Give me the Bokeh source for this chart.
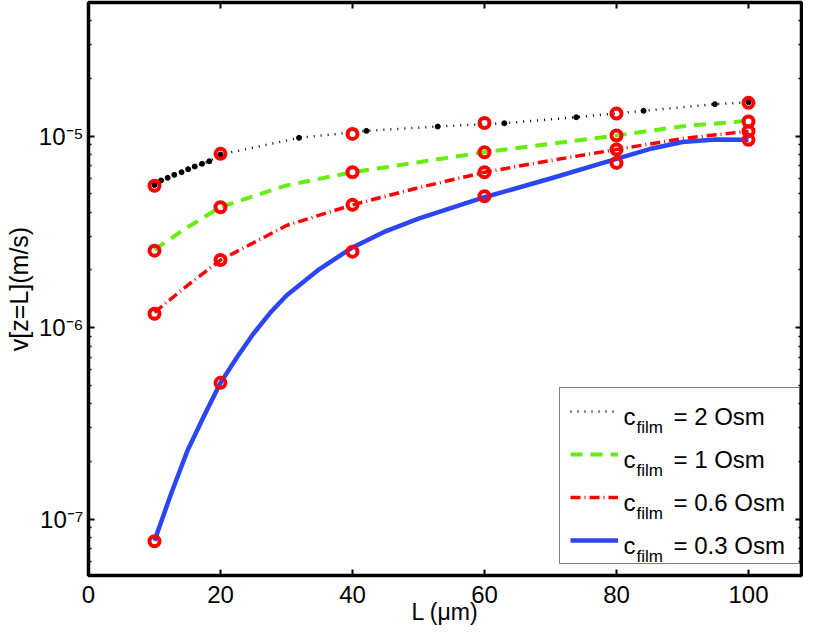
import math
from bokeh.plotting import figure
from bokeh.models import (FixedTicker, LinearAxis, LogAxis, Legend, LegendItem,
                          CustomJSTickFormatter, ColumnDataSource)
from bokeh.core.properties import value
from bokeh.embed import file_html
from bokeh.resources import INLINE

# ---------------- data ----------------
L_pts = [10, 20, 40, 60, 80, 100]
v_pts_2 = [5.5e-6, 8.07e-6, 1.026e-5, 1.17e-5, 1.31e-5, 1.49e-5]
v_pts_1 = [2.52e-6, 4.25e-6, 6.47e-6, 8.23e-6, 1.006e-5, 1.19e-5]
v_pts_06 = [1.18e-6, 2.25e-6, 4.37e-6, 6.47e-6, 8.5e-6, 1.06e-5]
v_pts_03 = [7.66e-8, 5.14e-7, 2.49e-6, 4.85e-6, 7.24e-6, 9.55e-6]

L_curve_2 = [10, 11.0, 12.0, 13.0, 14.1, 15.1, 16.1, 17.2, 18.3, 20, 31.9, 42.1, 52.9, 63.0, 73.9, 84.1, 94.9, 100]
v_curve_2 = [5.55e-6, 5.86e-6, 6.05e-6, 6.27e-6, 6.47e-6, 6.71e-6, 6.93e-6, 7.16e-6, 7.38e-6, 8.0e-6,
             9.78e-6, 1.064e-5, 1.121e-5, 1.166e-5, 1.254e-5, 1.354e-5, 1.466e-5, 1.5e-5]

L_curve_1 = [10, 15, 20, 30, 40, 50, 60, 70, 80, 90, 100]
v_curve_1 = [2.55e-6, 3.34e-6, 4.25e-6, 5.52e-6, 6.47e-6, 7.3e-6, 8.23e-6, 9.1e-6, 1.006e-5, 1.124e-5, 1.2e-5]

L_curve_06 = [10, 15, 20, 30, 40, 50, 60, 70, 80, 90, 100]
v_curve_06 = [1.2e-6, 1.66e-6, 2.25e-6, 3.41e-6, 4.37e-6, 5.37e-6, 6.47e-6, 7.45e-6, 8.5e-6, 9.7e-6, 1.06e-5]

L_curve_03 = [10, 12.5, 15, 17.5, 20, 22.5, 25, 27.5, 30, 35, 40, 45, 50, 60, 70, 80, 85, 90, 95, 100]
v_curve_03 = [7.7e-8, 1.35e-7, 2.28e-7, 3.45e-7, 5.14e-7, 7.0e-7, 9.3e-7, 1.19e-6, 1.47e-6, 2.02e-6,
              2.62e-6, 3.18e-6, 3.7e-6, 4.79e-6, 6.0e-6, 7.6e-6, 8.55e-6, 9.3e-6, 9.6e-6, 9.55e-6]

x_ticks = [0, 20, 40, 60, 80, 100]
y_ticks = [1e-7, 1e-6, 1e-5]
y_minor = [k * 10.0 ** e for e in (-8, -7, -6, -5) for k in range(2, 10)]

legend_values = ["= 2 Osm", "= 1 Osm", "= 0.6 Osm", "= 0.3 Osm"]
x_label = "L (\u03bcm)"
y_label = "v[z=L](m/s)"

FONT = "Liberation Sans"
C_BLACK = "black"
C_GREEN = "#66ee11"
C_RED = "#ff0000"
C_BLUE = "#2a46f5"

X0, X1 = 0, 108.03
Y0, Y1 = 5.07e-8, 4.98e-5
FRAME_W, FRAME_H = 713, 573

p = figure(width=803, height=628, y_axis_type="log",
           x_range=(X0, X1), y_range=(Y0, Y1),
           output_backend="svg", toolbar_location=None,
           min_border_left=88, min_border_right=2, min_border_top=2, min_border_bottom=53)
p.grid.visible = False
p.outline_line_color = "black"
p.outline_line_width = 3.5
p.background_fill_color = "white"
p.border_fill_color = "white"

sup_code = """
const sup = {'-':'\u207b','0':'\u2070','1':'\u00b9','2':'\u00b2','3':'\u00b3','4':'\u2074',
             '5':'\u2075','6':'\u2076','7':'\u2077','8':'\u2078','9':'\u2079'};
const e = Math.round(Math.log10(tick));
return '10' + String(e).split('').map(c => sup[c]).join('');
"""

def style_axis(ax, show_labels, standoff=5):
    ax.axis_line_color = None
    ax.major_tick_in = 6
    ax.major_tick_out = 0
    ax.major_tick_line_width = 2
    ax.minor_tick_in = 3
    ax.minor_tick_out = 0
    ax.minor_tick_line_width = 1.5
    ax.major_label_text_font = FONT
    ax.major_label_text_font_size = "24px"
    ax.major_label_text_color = "black"
    ax.major_label_standoff = standoff
    ax.axis_label_text_font = FONT
    ax.axis_label_text_font_size = "23px"
    ax.axis_label_text_font_style = "normal"
    ax.axis_label_text_color = "black"
    if not show_labels:
        ax.formatter = CustomJSTickFormatter(code="return '';")
        ax.major_label_standoff = 0
        ax.major_label_text_font_size = "0px"

p.xaxis.ticker = FixedTicker(ticks=x_ticks)
p.yaxis.ticker = FixedTicker(ticks=y_ticks, minor_ticks=y_minor)
p.yaxis.formatter = CustomJSTickFormatter(code=sup_code)
style_axis(p.xaxis[0], True, standoff=10)
style_axis(p.yaxis[0], True, standoff=5)
p.xaxis.axis_label = x_label
p.xaxis.axis_label_standoff = -7
p.xaxis.axis_label_text_font_size = "23px"
p.yaxis.axis_label = y_label
p.yaxis.axis_label_standoff = 3
p.yaxis.axis_label_text_font_size = "25px"

top = LinearAxis(ticker=FixedTicker(ticks=x_ticks))
style_axis(top, False)
p.add_layout(top, "above")
right = LogAxis(ticker=FixedTicker(ticks=y_ticks, minor_ticks=y_minor))
style_axis(right, False)
p.add_layout(right, "right")

r2 = p.line(L_curve_2, v_curve_2, line_color=C_BLACK, line_width=2.5, line_dash="1 6")
p.scatter(L_curve_2, v_curve_2, size=5, color=C_BLACK)
r1 = p.line(L_curve_1, v_curve_1, line_color=C_GREEN, line_width=4, line_dash="12 8")
r06 = p.line(L_curve_06, v_curve_06, line_color=C_RED, line_width=3.5, line_dash="10 4 1 4")
r03 = p.line(L_curve_03, v_curve_03, line_color=C_BLUE, line_width=4.5, line_join="round")

for vals in (v_pts_2, v_pts_1, v_pts_06, v_pts_03):
    p.scatter(L_pts, vals, marker="circle", size=10, fill_color=None,
              line_color=C_RED, line_width=4)

legend = Legend(items=[LegendItem(label=" ", renderers=[r]) for r in (r2, r1, r06, r03)],
                location=(471, 11), padding=10, spacing=17, glyph_width=48, glyph_height=26,
                label_height=26, label_width=166, label_standoff=5,
                label_text_font_size="10px",
                border_line_color="black", border_line_width=1,
                background_fill_alpha=0.0, margin=0)
p.add_layout(legend)

# legend texts: positions given in pixels from the frame's bottom-left, converted to data space
def data_x(px):
    return X0 + (X1 - X0) * px / FRAME_W

def data_y(py):
    l0, l1 = math.log10(Y0), math.log10(Y1)
    return 10 ** (l0 + (l1 - l0) * py / FRAME_H)

main_py = [159, 116, 73, 30]
sub_py = [148, 105, 62, 19]
src_c = ColumnDataSource(dict(x=[data_x(535)] * 4, y=[data_y(v) for v in main_py], t=["c"] * 4))
src_f = ColumnDataSource(dict(x=[data_x(548)] * 4, y=[data_y(v) for v in sub_py], t=["film"] * 4))
src_v = ColumnDataSource(dict(x=[data_x(585)] * 4, y=[data_y(v) for v in main_py], t=legend_values))
for src, fs in ((src_c, "24px"), (src_f, "17px"), (src_v, "24px")):
    p.text(x="x", y="y", text="t", source=src, text_font=value(FONT), text_font_size=value(fs),
           text_color="black", text_baseline="alphabetic", text_align="left")

open("out.html", "w").write(file_html(p, INLINE))
